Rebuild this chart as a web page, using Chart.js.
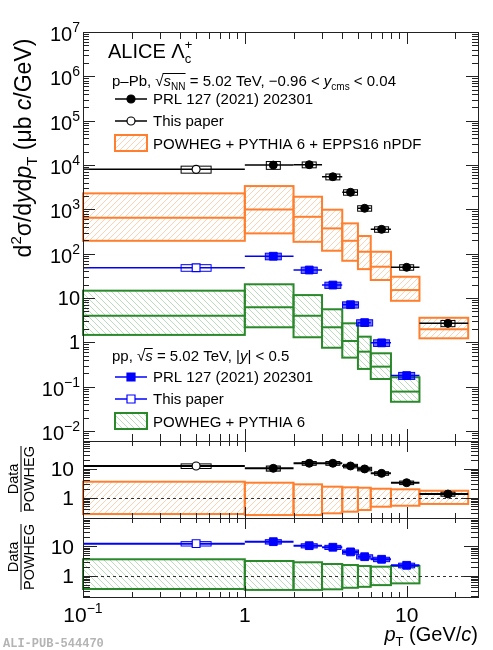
<!DOCTYPE html>
<html>
<head>
<meta charset="utf-8">
<title>ALICE Lambda_c+ cross section in p-Pb and pp</title>
<style>
  body { margin: 0; background: #fff; }
  #wrap { position: relative; width: 493px; height: 650px; }
  #wrap canvas { position: absolute; left: 0; top: 0; }
</style>
<script src="https://cdn.jsdelivr.net/npm/chart.js@4.4.1/dist/chart.umd.min.js"></script>
</head>
<body>
<div id="wrap">
  <canvas id="main" width="493" height="650"></canvas>
  <canvas id="ratioPPb" width="493" height="650"></canvas>
  <canvas id="ratioPP" width="493" height="650"></canvas>
</div>
<script>
// pT bins (GeV/c), first bin 0-1 is the new measurement
var binLo = [0, 1, 2, 3, 4, 5, 6, 8, 12];
var binHi = [1, 2, 3, 4, 5, 6, 8, 12, 24];
var binMid = [0.5, 1.5, 2.5, 3.5, 4.5, 5.5, 7, 10, 18];

// p-Pb, d2sigma/dydpT (ub c/GeV)
var pPbVal = [8000, 10000, 10200, 5450, 2430, 1060, 355, 49.5, 2.7];
var pPbStat = [0.04, 0.05, 0.04, 0.04, 0.05, 0.06, 0.08, 0.1, 0.2];
var pPbSyst = [0.18, 0.2, 0.15, 0.15, 0.14, 0.14, 0.14, 0.14, 0.16];
var pPbModel = [647, 1000, 681, 373, 196, 111, 51, 15.2, 1.98];
var pPbModelLo = [196, 288, 186, 117, 69.5, 45, 25.6, 8.7, 1.24];
var pPbModelHi = [2300, 3360, 1930, 985, 484, 251, 111, 30.3, 3.6];

// pp, d2sigma/dydpT (ub c/GeV), bins up to 12 GeV/c
var ppVal = [48.5, 88, 43, 19.7, 7.1, 2.8, 0.98, 0.179];
var ppStat = [0.05, 0.05, 0.04, 0.05, 0.06, 0.08, 0.1, 0.14];
var ppSyst = [0.17, 0.17, 0.16, 0.16, 0.16, 0.16, 0.17, 0.18];
var ppModel = [4.0, 6.2, 4.0, 2.2, 1.08, 0.62, 0.285, 0.078];
var ppModelLo = [1.48, 2.2, 1.31, 0.76, 0.455, 0.253, 0.15, 0.046];
var ppModelHi = [14.7, 20.5, 11.7, 5.6, 2.7, 1.35, 0.57, 0.164];

// Data / POWHEG
var pPbRatio = [12.4, 10.3, 15.4, 15.4, 12.4, 9.8, 6.9, 3.29, 1.34];
var pPbRatioLo = [0.274, 0.253, 0.253, 0.29, 0.33, 0.377, 0.49, 0.53, 0.61];
var pPbRatioHi = [3.56, 3.29, 2.89, 2.4, 2.28, 2.21, 2.04, 1.95, 1.74];
var ppRatio = [12.2, 14.2, 10.4, 9.2, 6.4, 4.4, 3.6, 2.25];
var ppRatioLo = [0.355, 0.33, 0.33, 0.346, 0.39, 0.42, 0.48, 0.55];
var ppRatioHi = [3.6, 3.15, 2.85, 2.49, 2.3, 2.13, 2.02, 2.13];

// labelled ticks
var xTickLabels = [0.1, 1, 10];
var yTickLabels = [1e-2, 1e-1, 1, 10, 1e2, 1e3, 1e4, 1e5, 1e6, 1e7];
var ratioTickLabels = [1, 10];

var FONT = '"Liberation Sans", Arial, sans-serif';
var ORANGE = '#ff7f2e', ORANGE_HATCH = '#fcd0b2';
var GREEN = '#2a892a', GREEN_HATCH = '#bcdbbc';
var BLUE = '#0000ff';

function px(scale, v) {
  return scale.getPixelForValue(Math.min(Math.max(v, scale.min), scale.max));
}

function pts(xs, ys) {
  return xs.map(function (x, i) { return { x: x, y: ys[i] }; });
}

function hatch(ctx, color, dir) {
  var c = document.createElement('canvas');
  c.width = c.height = 6;
  var g = c.getContext('2d');
  g.strokeStyle = color;
  g.lineWidth = 1;
  g.beginPath();
  if (dir > 0) {
    g.moveTo(-1, 7); g.lineTo(7, -1);
    g.moveTo(-1, 1); g.lineTo(1, -1);
    g.moveTo(5, 7); g.lineTo(7, 5);
  } else {
    g.moveTo(-1, -1); g.lineTo(7, 7);
    g.moveTo(5, -1); g.lineTo(7, 1);
    g.moveTo(-1, 5); g.lineTo(1, 7);
  }
  g.stroke();
  return ctx.createPattern(c, 'repeat');
}

// text with sub/superscripts: parts = [{t, s, dy, it, stack, bar}]
function setFont(ctx, p) {
  ctx.font = (p.it ? 'italic ' : '') + p.s + 'px ' + FONT;
}
function drawParts(ctx, x, y, parts, align) {
  var cx = 0, start = 0, widths = [];
  var at = parts.map(function (p) {
    setFont(ctx, p);
    var w = ctx.measureText(p.t).width, a;
    if (p.stack) a = start; else { a = cx; start = cx; }
    cx = Math.max(cx, a + w);
    widths.push(w);
    return a;
  });
  var x0 = align === 'right' ? x - cx : align === 'center' ? x - cx / 2 : x;
  ctx.textAlign = 'left';
  ctx.textBaseline = 'alphabetic';
  parts.forEach(function (p, i) {
    setFont(ctx, p);
    ctx.fillText(p.t, x0 + at[i], y + (p.dy || 0));
    if (p.bar) ctx.fillRect(x0 + at[i] - 1, y - p.bar, widths[i] + 1, 1);
  });
  return cx;
}

function powerParts(v, size, supSize, supDy) {
  var e = Math.round(Math.log10(v));
  if (e === 0) return [{ t: '1', s: size }];
  if (e === 1) return [{ t: '10', s: size }];
  return [{ t: '10', s: size }, { t: (e < 0 ? '\u2212' : '') + Math.abs(e), s: supSize, dy: supDy }];
}

function logTicks(min, max) {
  var out = [];
  for (var e = Math.floor(Math.log10(min)); e <= Math.ceil(Math.log10(max)); e++) {
    for (var m = 1; m < 10; m++) {
      var v = Number((m * Math.pow(10, e)).toPrecision(4));
      if (v >= min * 0.999 && v <= max * 1.001) out.push({ v: v, major: m === 1 });
    }
  }
  return out;
}

function drawFrame(chart, t) {
  var ctx = chart.ctx, a = chart.chartArea, xs = chart.scales.x, ys = chart.scales.y;
  ctx.save();
  ctx.strokeStyle = '#222';
  ctx.lineWidth = 1;
  ctx.beginPath();
  logTicks(ys.min, ys.max).forEach(function (k) {
    var y = Math.round(px(ys, k.v)) + 0.5, L = k.major ? t.yMajor : t.yMinor;
    ctx.moveTo(a.left, y); ctx.lineTo(a.left + L, y);
    ctx.moveTo(a.right, y); ctx.lineTo(a.right - L, y);
  });
  logTicks(xs.min, xs.max).forEach(function (k) {
    var x = Math.round(px(xs, k.v)) + 0.5, L = k.major ? t.xMajor : t.xMinor;
    ctx.moveTo(x, a.bottom); ctx.lineTo(x, a.bottom - L);
    ctx.moveTo(x, a.top); ctx.lineTo(x, a.top + L);
  });
  ctx.stroke();
  ctx.strokeRect(Math.round(a.left) + 0.5, Math.round(a.top) + 0.5,
    Math.round(a.right - a.left), Math.round(a.bottom - a.top));
  ctx.restore();
}

function drawBands(ctx, xs, ys, lo, hi, mid, color, fill) {
  ctx.save();
  ctx.lineWidth = 2;
  ctx.strokeStyle = color;
  for (var i = 0; i < lo.length; i++) {
    var x1 = px(xs, binLo[i]), x2 = px(xs, binHi[i]);
    var yt = px(ys, hi[i]), yb = px(ys, lo[i]);
    ctx.fillStyle = fill;
    ctx.fillRect(x1, yt, x2 - x1, yb - yt);
    ctx.strokeRect(x1, yt, x2 - x1, yb - yt);
    if (mid) {
      var ym = px(ys, mid[i]);
      ctx.beginPath(); ctx.moveTo(x1, ym); ctx.lineTo(x2, ym); ctx.stroke();
    }
  }
  ctx.restore();
}

// bin-width bar, stat bar and syst box for each point
function drawErrors(ctx, xs, ys, val, stat, syst, st) {
  ctx.save();
  ctx.strokeStyle = st.color;
  for (var i = 0; i < val.length; i++) {
    var xc = px(xs, binMid[i]), yc = px(ys, val[i]);
    ctx.lineWidth = st.lw;
    ctx.beginPath();
    ctx.moveTo(px(xs, binLo[i]), yc); ctx.lineTo(px(xs, binHi[i]), yc);
    ctx.moveTo(xc, px(ys, val[i] * (1 + stat[i]))); ctx.lineTo(xc, px(ys, val[i] * (1 - stat[i])));
    ctx.stroke();
    var hw = i === 0 ? 15 : st.hw;
    var yt = px(ys, val[i] * (1 + syst[i])), yb = px(ys, val[i] * (1 - syst[i]));
    if (st.fill && i > 0) {
      ctx.fillStyle = st.fill;
      ctx.fillRect(xc - hw, yt, 2 * hw, yb - yt);
    }
    ctx.lineWidth = 1;
    ctx.strokeRect(xc - hw, yt, 2 * hw, yb - yt);
  }
  ctx.restore();
}

function dashedOne(chart) {
  var ctx = chart.ctx, a = chart.chartArea, y = Math.round(px(chart.scales.y, 1)) + 0.5;
  ctx.save();
  ctx.strokeStyle = '#333';
  ctx.lineWidth = 1;
  ctx.setLineDash([3, 3]);
  ctx.beginPath(); ctx.moveTo(a.left, y); ctx.lineTo(a.right, y); ctx.stroke();
  ctx.restore();
}

function legendRow(ctx, y, color, style, open) {
  ctx.save();
  ctx.strokeStyle = color;
  ctx.lineWidth = 1.5;
  ctx.beginPath(); ctx.moveTo(115, y); ctx.lineTo(147, y); ctx.stroke();
  ctx.fillStyle = open ? '#fff' : color;
  ctx.lineWidth = 1.2;
  ctx.beginPath();
  if (style === 'circle') ctx.arc(131, y, 4, 0, 2 * Math.PI);
  else ctx.rect(127, y - 4, 8, 8);
  ctx.fill(); ctx.stroke();
  ctx.restore();
}

function legendBox(ctx, y1, y2, color, fill) {
  ctx.save();
  ctx.fillStyle = fill;
  ctx.fillRect(115, y1, 32, y2 - y1);
  ctx.strokeStyle = color;
  ctx.lineWidth = 2;
  ctx.strokeRect(115, y1, 32, y2 - y1);
  ctx.restore();
}

function ratioTitle(ctx, cy) {
  ctx.save();
  ctx.translate(21, cy);
  ctx.rotate(-Math.PI / 2);
  ctx.fillStyle = '#000';
  var w = drawParts(ctx, 0, 13, [{ t: 'POWHEG', s: 14.5 }], 'center');
  drawParts(ctx, 0, -3, [{ t: 'Data', s: 14.5 }], 'center');
  ctx.fillRect(-w / 2, -0.5, w, 1);
  ctx.restore();
}

function ratioLabels(chart) {
  var ctx = chart.ctx, ys = chart.scales.y;
  ctx.fillStyle = '#000';
  ratioTickLabels.forEach(function (v) {
    drawParts(ctx, 74, px(ys, v) + 7.5, powerParts(v, 21, 14, -9), 'right');
  });
}

var commonOptions = function (pad, yMin, yMax) {
  return {
    responsive: false,
    animation: false,
    events: [],
    layout: { padding: pad },
    scales: {
      x: { type: 'logarithmic', min: 0.1, max: 27.6, display: false },
      y: { type: 'logarithmic', min: yMin, max: yMax, display: false }
    },
    plugins: { legend: { display: false }, tooltip: { enabled: false } }
  };
};

function markerSets(pPb, pp) {
  return [
    { data: pts(binMid.slice(1), pPb.slice(1)), pointStyle: 'circle', pointRadius: 4,
      pointBackgroundColor: '#000', pointBorderColor: '#000', showLine: false },
    { data: pts([binMid[0]], [pPb[0]]), pointStyle: 'circle', pointRadius: 4,
      pointBackgroundColor: '#fff', pointBorderColor: '#000', pointBorderWidth: 1.2, showLine: false },
    { data: pts(binMid.slice(1, pp.length), pp.slice(1)), pointStyle: 'rect', pointRadius: 5.5,
      pointBackgroundColor: BLUE, pointBorderColor: BLUE, showLine: false },
    { data: pts([binMid[0]], [pp[0]]), pointStyle: 'rect', pointRadius: 5.5,
      pointBackgroundColor: '#fff', pointBorderColor: BLUE, pointBorderWidth: 1.2, showLine: false }
  ];
}

var blackStyle = { color: '#000', lw: 1.5, hw: 7 };
var blueStyle = { color: BLUE, lw: 1.5, hw: 8, fill: 'rgba(0,0,255,0.55)' };

var mainPanel = {
  id: 'mainPanel',
  beforeDatasetsDraw: function (chart) {
    var ctx = chart.ctx, xs = chart.scales.x, ys = chart.scales.y;
    drawBands(ctx, xs, ys, pPbModelLo, pPbModelHi, pPbModel, ORANGE, hatch(ctx, ORANGE_HATCH, 1));
    drawBands(ctx, xs, ys, ppModelLo, ppModelHi, ppModel, GREEN, hatch(ctx, GREEN_HATCH, -1));
    drawErrors(ctx, xs, ys, pPbVal, pPbStat, pPbSyst, blackStyle);
    drawErrors(ctx, xs, ys, ppVal, ppStat, ppSyst, blueStyle);
  },
  afterDraw: function (chart) {
    var ctx = chart.ctx, ys = chart.scales.y;
    drawFrame(chart, { yMajor: 12, yMinor: 6, xMajor: 12, xMinor: 7 });
    ctx.save();
    ctx.fillStyle = '#000';
    yTickLabels.forEach(function (v) {
      var e = Math.round(Math.log10(v));
      var shift = (e === 0 || e === 1) ? 0 : 2;
      drawParts(ctx, 80, px(ys, v) + 7 + shift, powerParts(v, 20, 14, -9), 'right');
    });

    // y title
    ctx.save();
    ctx.translate(31, 148);
    ctx.rotate(-Math.PI / 2);
    drawParts(ctx, 0, 0, [
      { t: 'd', s: 23 }, { t: '2', s: 15, dy: -10 }, { t: '\u03c3/d', s: 23 }, { t: 'y', s: 23, it: true },
      { t: 'd', s: 23 }, { t: 'p', s: 23, it: true }, { t: 'T', s: 15, dy: 6 },
      { t: ' (\u03bcb ', s: 23 }, { t: 'c', s: 23, it: true }, { t: '/GeV)', s: 23 }
    ], 'center');
    ctx.restore();

    // p-Pb block
    drawParts(ctx, 108, 58, [
      { t: 'ALICE \u039b', s: 20 }, { t: 'c', s: 13, dy: 5 }, { t: '+', s: 13, dy: -9, stack: true }
    ]);
    drawParts(ctx, 112, 86, [
      { t: 'p\u2013Pb, \u221a', s: 15 }, { t: 's', s: 15, it: true, bar: 13 },
      { t: 'NN', s: 10, dy: 4, bar: 13 }, { t: ' = 5.02 TeV, \u22120.96 < ', s: 15 },
      { t: 'y', s: 15, it: true }, { t: 'cms', s: 10, dy: 4 }, { t: ' < 0.04', s: 15 }
    ]);
    legendRow(ctx, 99, '#000', 'circle', false);
    legendRow(ctx, 121, '#000', 'circle', true);
    legendBox(ctx, 135, 151, ORANGE, hatch(ctx, ORANGE_HATCH, 1));
    drawParts(ctx, 153, 104, [{ t: 'PRL 127 (2021) 202301', s: 15 }]);
    drawParts(ctx, 153, 126, [{ t: 'This paper', s: 15 }]);
    drawParts(ctx, 153, 148.5, [{ t: 'POWHEG + PYTHIA 6 + EPPS16 nPDF', s: 15 }]);

    // pp block
    drawParts(ctx, 112, 361, [
      { t: 'pp, \u221a', s: 15 }, { t: 's', s: 15, it: true, bar: 13 },
      { t: ' = 5.02 TeV, |', s: 15 }, { t: 'y', s: 15, it: true }, { t: '| < 0.5', s: 15 }
    ]);
    legendRow(ctx, 377, BLUE, 'rect', false);
    legendRow(ctx, 399, BLUE, 'rect', true);
    legendBox(ctx, 413, 429, GREEN, hatch(ctx, GREEN_HATCH, -1));
    drawParts(ctx, 153, 382, [{ t: 'PRL 127 (2021) 202301', s: 15 }]);
    drawParts(ctx, 153, 404, [{ t: 'This paper', s: 15 }]);
    drawParts(ctx, 153, 427, [{ t: 'POWHEG + PYTHIA 6', s: 15 }]);
    ctx.restore();
  }
};

var ratioPPbPanel = {
  id: 'ratioPPbPanel',
  beforeDatasetsDraw: function (chart) {
    var ctx = chart.ctx, xs = chart.scales.x, ys = chart.scales.y;
    drawBands(ctx, xs, ys, pPbRatioLo, pPbRatioHi, null, ORANGE, hatch(ctx, ORANGE_HATCH, 1));
    dashedOne(chart);
    drawErrors(ctx, xs, ys, pPbRatio, pPbStat, pPbSyst, { color: '#000', lw: 2, hw: 7, fill: 'rgba(0,0,0,0.35)' });
    // pp points are not shown in this panel
  },
  afterDraw: function (chart) {
    drawFrame(chart, { yMajor: 14, yMinor: 7, xMajor: 11, xMinor: 5 });
    ratioLabels(chart);
    ratioTitle(chart.ctx, 479);
  }
};

var ratioPPPanel = {
  id: 'ratioPPPanel',
  beforeDatasetsDraw: function (chart) {
    var ctx = chart.ctx, xs = chart.scales.x, ys = chart.scales.y;
    drawBands(ctx, xs, ys, ppRatioLo, ppRatioHi, null, GREEN, hatch(ctx, GREEN_HATCH, -1));
    dashedOne(chart);
    drawErrors(ctx, xs, ys, ppRatio, ppStat, ppSyst, { color: BLUE, lw: 2, hw: 8, fill: 'rgba(0,0,255,0.55)' });
  },
  afterDraw: function (chart) {
    var ctx = chart.ctx, xs = chart.scales.x;
    drawFrame(chart, { yMajor: 14, yMinor: 7, xMajor: 11, xMinor: 5 });
    ratioLabels(chart);
    ratioTitle(ctx, 557);
    ctx.save();
    ctx.fillStyle = '#000';
    xTickLabels.forEach(function (v) {
      drawParts(ctx, px(xs, v), 622, powerParts(v, 21, 14, -9), 'center');
    });
    drawParts(ctx, 478, 641, [
      { t: 'p', s: 20, it: true }, { t: 'T', s: 13, dy: 5 }, { t: ' (GeV/', s: 20 },
      { t: 'c', s: 20, it: true }, { t: ')', s: 20 }
    ], 'right');
    ctx.font = 'bold 12px "Liberation Mono", monospace';
    ctx.fillStyle = '#b4b4b4';
    ctx.textAlign = 'left';
    ctx.fillText('ALI-PUB-544470', 3, 647);
    ctx.restore();
  }
};

var mainSets = markerSets(pPbVal, ppVal);
new Chart(document.getElementById('main'), {
  type: 'scatter',
  data: { datasets: mainSets },
  options: commonOptions({ left: 83, right: 15, top: 32, bottom: 209 }, 0.006, 1e7),
  plugins: [mainPanel]
});

new Chart(document.getElementById('ratioPPb'), {
  type: 'scatter',
  data: { datasets: markerSets(pPbRatio, [NaN]).slice(0, 2) },
  options: commonOptions({ left: 83, right: 15, top: 441, bottom: 132 }, 0.2, 90),
  plugins: [ratioPPbPanel]
});

new Chart(document.getElementById('ratioPP'), {
  type: 'scatter',
  data: { datasets: markerSets([NaN], ppRatio).slice(2) },
  options: commonOptions({ left: 83, right: 15, top: 518, bottom: 53 }, 0.19, 90),
  plugins: [ratioPPPanel]
});
</script>
</body>
</html>
